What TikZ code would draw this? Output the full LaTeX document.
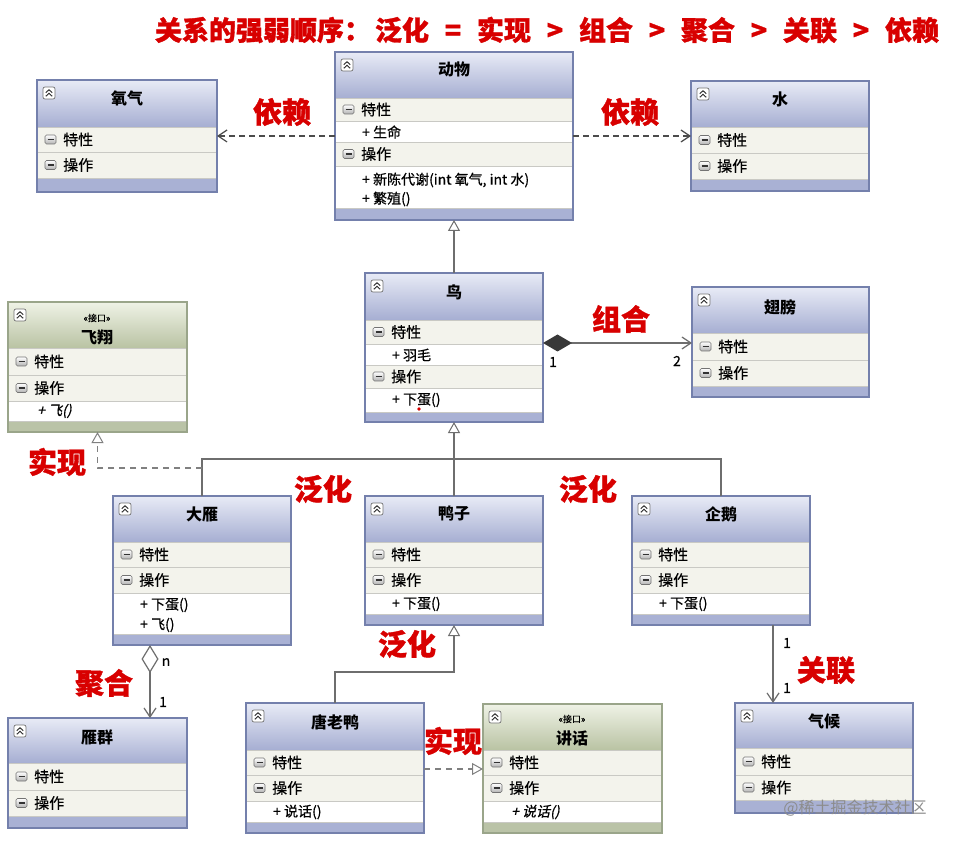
\documentclass[tikz,border=0pt]{standalone}
\usepackage{fontspec}
\setmainfont{Noto Sans CJK SC}
\newfontfamily\cjkit[FakeSlant=0.22,FakeBold=0.6]{Noto Sans CJK SC}
\newfontfamily\cjkmed[FakeBold=0.6]{Noto Sans CJK SC}
\newfontfamily\cjkheavy[FakeBold=1.2]{Noto Sans CJK SC}
\usetikzlibrary{arrows.meta}
\definecolor{clstop}{HTML}{E8EBF6}
\definecolor{clsbot}{HTML}{A6AED2}
\definecolor{clsborder}{HTML}{7480AC}
\definecolor{clsband}{HTML}{A9B1D4}
\definecolor{ifctop}{HTML}{EFF2E6}
\definecolor{ifcbot}{HTML}{B9C3A3}
\definecolor{ifcborder}{HTML}{9AA58A}
\definecolor{ifcband}{HTML}{BAC3A7}
\definecolor{rowcream}{HTML}{F3F3EC}
\definecolor{rowline}{HTML}{C9C9C4}
\definecolor{lblred}{HTML}{D80000}
\definecolor{conn}{HTML}{6E6E6E}

\newcommand\collapseicon[2]{%
  \draw[black!55,fill=white,rounded corners=2pt,line width=0.7pt] (#1-6,#2-6) rectangle (#1+6,#2+6);
  \draw[black!85,line width=0.9pt] (#1-3.2,#2-0.3) -- (#1,#2-3.3) -- (#1+3.2,#2-0.3)
    (#1-3.2,#2+3.3) -- (#1,#2+0.3) -- (#1+3.2,#2+3.3);
}
\newcommand\minusicon[2]{%
  \draw[black!55,line width=0.6pt,rounded corners=1.5pt,top color=white,bottom color=black!30] (#1-5.5,#2-4.5) rectangle (#1+5.5,#2+4.5);
  \draw[black!80,line width=1.1pt] (#1-3,#2) -- (#1+3,#2);
}
% name l t r b headerbottom bandtop type
\newcommand\umlhead[8]{%
  \node[inner sep=0pt,outer sep=0pt,anchor=north west,minimum width={#4-#2},minimum height={#5-#3}] (#1) at (#2,#3) {};
  \fill[white] (#2,#3) rectangle (#4,#5);
  \shade[top color=#8top,bottom color=#8bot] (#2,#3) rectangle (#4,#6);
  \fill[#8band] (#2,#7) rectangle (#4,#5);
  \draw[rowline,line width=0.8pt] (#2,#7) -- (#4,#7);
  \collapseicon{#2+12}{#3+13}
}
\newcommand\umlborder[2]{\draw[#2border,line width=1.4pt] (#1.north west) rectangle (#1.south east);}
% l r y1 y2 label
\newcommand\sect[5]{%
  \pgfmathsetmacro\ym{(#3+#4)/2}
  \fill[rowcream] (#1,#3) rectangle (#2,#4);
  \draw[rowline,line width=0.8pt] (#1,#3) -- (#2,#3) (#1,#4) -- (#2,#4);
  \minusicon{#1+13.5}{\ym}
  \node[rowtext] at (#1+26,\ym) {#5};
}
\newcommand\relop[1]{\makebox[48pt]{#1}}

\begin{document}
\begin{tikzpicture}[x=1pt,y=-1pt,
  cname/.style={font=\bfseries\fontsize{16}{16}\selectfont,inner sep=0pt},
  stereo/.style={font=\cjkmed\fontsize{9}{9}\selectfont,inner sep=0pt},
  rowtext/.style={font=\cjkmed\fontsize{15}{15}\selectfont,anchor=west,inner sep=0pt},
  itemtext/.style={font=\cjkmed\fontsize{14}{14}\selectfont,anchor=west,inner sep=0pt},
  itemital/.style={font=\cjkit\fontsize{14}{14}\selectfont,anchor=west,inner sep=0pt},
  relabel/.style={font=\cjkheavy\bfseries\fontsize{29}{29}\selectfont,text=lblred,inner sep=0pt},
  mult/.style={font=\cjkmed\fontsize{14}{14}\selectfont,inner sep=0pt},
  conline/.style={draw=conn,line width=1.3pt},
  dashline/.style={draw=black!50,line width=1.3pt,dash pattern=on 6pt off 5pt},
  depline/.style={draw=black!70,line width=1.3pt,dash pattern=on 6pt off 4pt},
  gentip/.style={-{Triangle[length=11pt,width=12pt,fill=white,line width=1pt]}},
  vtip/.style={-{Straight Barb[length=9pt,width=12pt,line width=1.2pt]}}
]
\useasboundingbox (0,0) rectangle (959,842);
\fill[white] (0,0) rectangle (959,842);

% title
\node[text=lblred,inner sep=0pt,font=\cjkheavy\bfseries\fontsize{27}{27}\selectfont] (title) at (547,30) {关系的强弱顺序：\hspace{4pt}泛化\relop{=}实现\relop{>}组合\relop{>}聚合\relop{>}关联\relop{>}依赖};

% ===== 动物
\umlhead{dw}{335}{52}{573}{220}{98}{208}{cls}
\sect{335}{573}{98}{121}{特性}
\sect{335}{573}{142}{166}{操作}
\node[cname] (dw-n) at (454,69) {动物};
\node[itemtext] (dw-a1) at (362,132) {+ 生命};
\node[itemtext] (dw-o1) at (362,180) {+ 新陈代谢(int 氧气, int 水)};
\node[itemtext] (dw-o2) at (362,199) {+ 繁殖()};
\umlborder{dw}{cls}

% ===== 氧气
\umlhead{yq}{37}{80}{217}{192}{127}{178}{cls}
\sect{37}{217}{127}{152}{特性}
\sect{37}{217}{152}{178}{操作}
\node[cname] (yq-n) at (127,98) {氧气};
\umlborder{yq}{cls}

% ===== 水
\umlhead{shui}{691}{81}{869}{191}{127}{179}{cls}
\sect{691}{869}{127}{153}{特性}
\sect{691}{869}{153}{179}{操作}
\node[cname] (shui-n) at (780,99) {水};
\umlborder{shui}{cls}

% ===== 鸟
\umlhead{niao}{365}{273}{543}{422}{320}{412}{cls}
\sect{365}{543}{320}{344}{特性}
\sect{365}{543}{365}{388}{操作}
\node[cname] (niao-n) at (454,292) {鸟};
\node[itemtext] (niao-a1) at (392,355) {+ 羽毛};
\node[itemtext] (niao-o1) at (392,400) {+ 下蛋()};
\fill[red!85!black] (419,409) circle (1.8);
\umlborder{niao}{cls}

% ===== 翅膀
\umlhead{cb}{692}{287}{869}{397}{333}{386}{cls}
\sect{692}{869}{333}{360}{特性}
\sect{692}{869}{360}{386}{操作}
\node[cname] (cb-n) at (780,307) {翅膀};
\umlborder{cb}{cls}

% ===== 飞翔 (interface)
\umlhead{fx}{8}{302}{187}{432}{348}{421}{ifc}
\sect{8}{187}{348}{375}{特性}
\sect{8}{187}{375}{401}{操作}
\node[stereo] (fx-s) at (97,318) {«接口»};
\node[cname] (fx-n) at (97,337) {飞翔};
\node[itemital] (fx-o1) at (37,411) {+ 飞()};
\umlborder{fx}{ifc}

% ===== 大雁
\umlhead{dy}{113}{496}{291}{645}{542}{634}{cls}
\sect{113}{291}{542}{567}{特性}
\sect{113}{291}{567}{593}{操作}
\node[cname] (dy-n) at (202,514) {大雁};
\node[itemtext] (dy-o1) at (140,605) {+ 下蛋()};
\node[itemtext] (dy-o2) at (140,625) {+ 飞()};
\umlborder{dy}{cls}

% ===== 鸭子
\umlhead{yz}{365}{496}{543}{625}{542}{614}{cls}
\sect{365}{543}{542}{567}{特性}
\sect{365}{543}{567}{593}{操作}
\node[cname] (yz-n) at (454,514) {鸭子};
\node[itemtext] (yz-o1) at (392,604) {+ 下蛋()};
\umlborder{yz}{cls}

% ===== 企鹅
\umlhead{qe}{632}{496}{810}{625}{542}{614}{cls}
\sect{632}{810}{542}{567}{特性}
\sect{632}{810}{567}{593}{操作}
\node[cname] (qe-n) at (721,514) {企鹅};
\node[itemtext] (qe-o1) at (659,604) {+ 下蛋()};
\umlborder{qe}{cls}

% ===== 雁群
\umlhead{yq2}{8}{718}{187}{828}{763}{816}{cls}
\sect{8}{187}{763}{790}{特性}
\sect{8}{187}{790}{816}{操作}
\node[cname] (yq2-n) at (97,737) {雁群};
\umlborder{yq2}{cls}

% ===== 唐老鸭
\umlhead{tly}{246}{703}{424}{833}{750}{822}{cls}
\sect{246}{424}{750}{775}{特性}
\sect{246}{424}{775}{801}{操作}
\node[cname] (tly-n) at (335,722) {唐老鸭};
\node[itemtext] (tly-o1) at (273,812) {+ 说话()};
\umlborder{tly}{cls}

% ===== 讲话 (interface)
\umlhead{jh}{483}{704}{662}{833}{750}{822}{ifc}
\sect{483}{662}{750}{775}{特性}
\sect{483}{662}{775}{801}{操作}
\node[stereo] (jh-s) at (572,719) {«接口»};
\node[cname] (jh-n) at (572,738) {讲话};
\node[itemital] (jh-o1) at (511,812) {+ 说话()};
\umlborder{jh}{ifc}

% ===== 气候
\umlhead{qh}{735}{703}{913}{813}{748}{800}{cls}
\sect{735}{913}{748}{775}{特性}
\sect{735}{913}{775}{800}{操作}
\node[cname] (qh-n) at (824,721) {气候};
\umlborder{qh}{cls}

% ===== connectors
\draw[depline,vtip] (dw.west |- 0,136) -- (yq.east |- 0,136);
\draw[depline,vtip] (dw.east |- 0,136) -- (shui.west |- 0,136);
\draw[conline,gentip] (niao.north) -- (dw.south);
\draw[conline,gentip] (yz.north) -- (niao.south);
\draw[conline] (dy.north) |- (qe.north |- 0,459) -- (qe.north);
\draw[conline,gentip] (tly.north) |- (yz.south |- 0,672) -- (yz.south);
\draw[dashline,gentip] (dy.north |- 0,468) -| (fx.south);
\draw[dashline,gentip] (tly.east |- 0,769) -- (jh.west |- 0,769);
\draw[conline,{Diamond[length=29pt,width=17pt,fill=black!78,color=black!78]}-{Straight Barb[length=9pt,width=12pt,line width=1.2pt]}] (niao.east |- 0,343) -- (cb.west |- 0,343);
\draw[conline,{Diamond[length=28pt,width=17pt,fill=white,line width=1.2pt]}-{Straight Barb[length=9pt,width=12pt,line width=1.2pt]}] (dy.south -| 150,0) -- (yq2.north -| 150,0);
\draw[conline,vtip] (qe.south -| 773,0) -- (qh.north -| 773,0);

% multiplicities
\node[mult] (m1) at (553,362) {1};
\node[mult] (m2) at (677,361) {2};
\node[mult] (m3) at (166,662) {n};
\node[mult] (m4) at (163,702) {1};
\node[mult] (m5) at (787,643) {1};
\node[mult] (m6) at (787,688) {1};

% relation labels
\node[relabel] (l1) at (282,112) {依赖};
\node[relabel] (l2) at (630,112) {依赖};
\node[relabel] (l3) at (621,319) {组合};
\node[relabel] (l4) at (57,462) {实现};
\node[relabel] (l5) at (323,489) {泛化};
\node[relabel] (l6) at (588,489) {泛化};
\node[relabel] (l7) at (407,644) {泛化};
\node[relabel] (l8) at (104,683) {聚合};
\node[relabel] (l9) at (453,741) {实现};
\node[relabel] (l10) at (826,670) {关联};

% watermark
\node[font=\fontsize{16}{16}\selectfont,text=black!45,inner sep=0pt] (wm) at (855,808) {@稀土掘金技术社区};
\end{tikzpicture}
\end{document}
